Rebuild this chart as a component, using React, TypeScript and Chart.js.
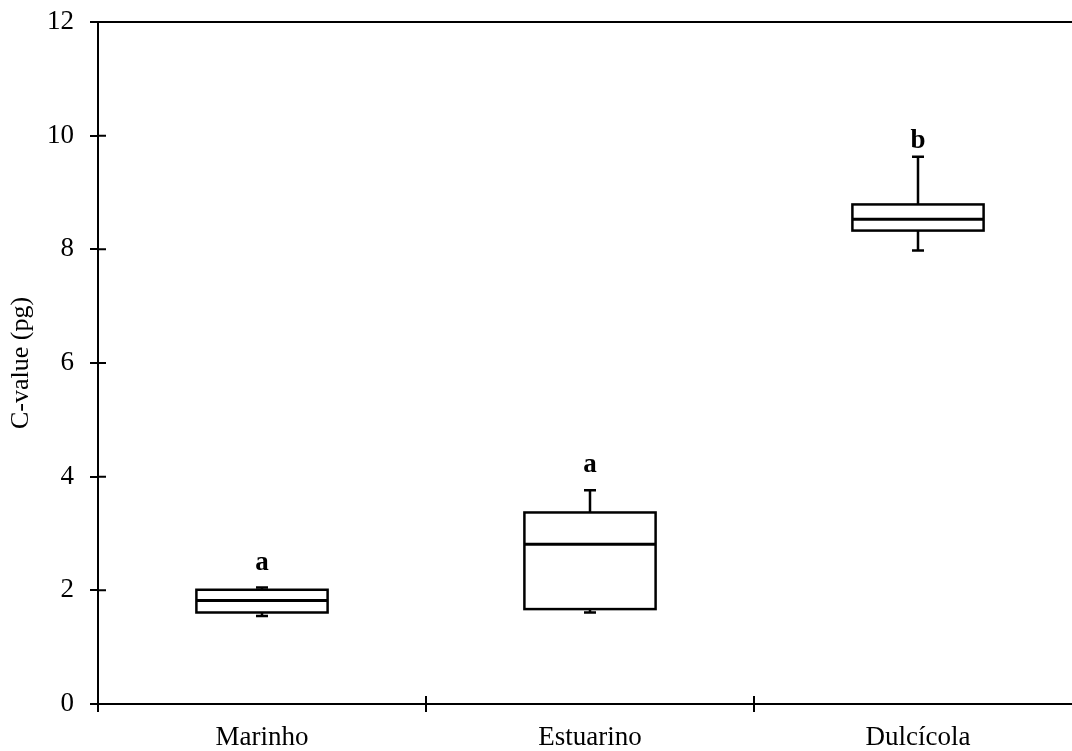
import React, { useEffect, useRef } from 'react';
import { Chart, registerables } from 'chart.js';

Chart.register(...registerables);

const categories = ['Marinho', 'Estuarino', 'Dulcícola'];
const whiskerMin = [1.55, 1.61, 7.98];
const q1 = [1.61, 1.67, 8.33];
const median = [1.82, 2.81, 8.53];
const q3 = [2.01, 3.37, 8.79];
const whiskerMax = [2.05, 3.76, 9.63];
const groupLetters = ['a', 'a', 'b'];
const letterY = [2.35, 4.09, 9.78];
const yMin = 0;
const yMax = 12;
const yStep = 2;

const FONT = '"Liberation Serif", "Times New Roman", serif';

const boxPlugin = {
  id: 'boxExtras',
  afterDatasetsDraw(chart: any) {
    const ctx = chart.ctx;
    const x = chart.scales.x;
    const y = chart.scales.y;
    const meta = chart.getDatasetMeta(0);
    const area = chart.chartArea;
    ctx.save();
    ctx.strokeStyle = '#000';
    ctx.lineCap = 'butt';
    categories.forEach((_, i) => {
      const bar = meta.data[i];
      const cx = bar.x;
      const half = bar.width / 2;
      const capHalf = 6;
      const yTop = y.getPixelForValue(q3[i]);
      const yBot = y.getPixelForValue(q1[i]);
      // box outline
      ctx.lineWidth = 2.5;
      ctx.strokeRect(cx - half, yTop, half * 2, yBot - yTop);
      // median
      ctx.lineWidth = 3;
      ctx.beginPath();
      ctx.moveTo(cx - half, y.getPixelForValue(median[i]));
      ctx.lineTo(cx + half, y.getPixelForValue(median[i]));
      ctx.stroke();
      // whiskers
      ctx.lineWidth = 2.5;
      ctx.beginPath();
      ctx.moveTo(cx, yTop);
      ctx.lineTo(cx, y.getPixelForValue(whiskerMax[i]));
      ctx.moveTo(cx - capHalf, y.getPixelForValue(whiskerMax[i]));
      ctx.lineTo(cx + capHalf, y.getPixelForValue(whiskerMax[i]));
      ctx.moveTo(cx, yBot);
      ctx.lineTo(cx, y.getPixelForValue(whiskerMin[i]));
      ctx.moveTo(cx - capHalf, y.getPixelForValue(whiskerMin[i]));
      ctx.lineTo(cx + capHalf, y.getPixelForValue(whiskerMin[i]));
      ctx.stroke();
      // letters
      ctx.fillStyle = '#000';
      ctx.font = 'bold 27px ' + FONT;
      ctx.textAlign = 'center';
      ctx.textBaseline = 'alphabetic';
      ctx.fillText(groupLetters[i], cx, y.getPixelForValue(letterY[i]));
    });
    ctx.lineWidth = 2;
    // top frame line
    ctx.beginPath();
    ctx.moveTo(area.left, area.top);
    ctx.lineTo(area.right, area.top);
    ctx.stroke();
    // inner parts of ticks (ticks cross the axes)
    ctx.beginPath();
    for (let i = 1; i <= categories.length; i++) {
      const bx = x.left + (i * (x.right - x.left)) / categories.length;
      ctx.moveTo(bx, area.bottom - 8);
      ctx.lineTo(bx, area.bottom);
    }
    for (let v = yMin + yStep; v < yMax; v += yStep) {
      const py = y.getPixelForValue(v);
      ctx.moveTo(area.left, py);
      ctx.lineTo(area.left + 8, py);
    }
    ctx.stroke();
    ctx.restore();
  },
};

export default function App() {
  const ref = useRef<HTMLCanvasElement | null>(null);
  useEffect(() => {
    if (!ref.current) return;
    const chart = new Chart(ref.current, {
      type: 'bar',
      data: {
        labels: categories,
        datasets: [
          {
            data: q1.map((v, i) => [v, q3[i]]) as any,
            backgroundColor: '#fff',
            borderWidth: 0,
            barPercentage: 0.4,
            categoryPercentage: 1.0,
          },
        ],
      },
      options: {
        responsive: false,
        animation: false,
        devicePixelRatio: 1,
        layout: { padding: { left: 0, top: 22, right: 2, bottom: 0 } },
        plugins: {
          legend: { display: false },
          tooltip: { enabled: false },
        },
        scales: {
          x: {
            offset: true,
            grid: {
              offset: true,
              drawOnChartArea: false,
              drawTicks: true,
              tickLength: 8,
              color: '#000',
              lineWidth: 2,
            },
            border: { color: '#000', width: 2 },
            ticks: { color: '#000', font: { family: FONT, size: 27 }, padding: 10 },
            afterFit: (s: any) => {
              s.height = 47;
              s.paddingLeft = 0;
              s.paddingRight = 0;
            },
          },
          y: {
            min: yMin,
            max: yMax,
            grid: {
              drawOnChartArea: false,
              drawTicks: true,
              tickLength: 8,
              color: '#000',
              lineWidth: 2,
            },
            border: { color: '#000', width: 2 },
            ticks: {
              stepSize: yStep,
              color: '#000',
              font: { family: FONT, size: 27 },
              padding: 16,
            },
            title: {
              display: true,
              text: 'C-value (pg)',
              color: '#000',
              font: { family: FONT, size: 26 },
              padding: { top: 6, bottom: 0 },
            },
            afterFit: (s: any) => {
              s.width = 98;
              s.paddingTop = 0;
              s.paddingBottom = 0;
            },
          },
        },
      },
      plugins: [boxPlugin],
    });
    return () => chart.destroy();
  }, []);
  return (
    <div
      style={{
        position: 'fixed',
        left: 0,
        top: 0,
        width: 1072,
        height: 751,
        overflow: 'hidden',
        background: '#fff',
      }}
    >
      <canvas ref={ref} width={1084} height={751} style={{ display: 'block' }} />
    </div>
  );
}
